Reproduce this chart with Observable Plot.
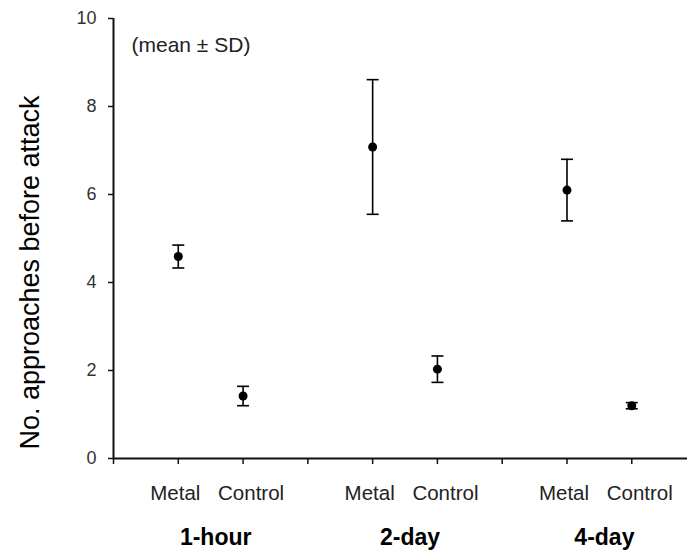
<!DOCTYPE html>
<html><head><meta charset="utf-8">
<script src="https://cdn.jsdelivr.net/npm/d3@7"></script>
<script src="https://cdn.jsdelivr.net/npm/@observablehq/plot@0.6"></script>
<style>body{margin:0;background:#fff;}</style>
</head><body><div id="chart"></div>
<script>
const groups = ["1-hour", "2-day", "4-day"];
const treatments = ["Metal", "Control"];
const means = [4.59, 1.42, 7.08, 2.03, 6.10, 1.20];
const sds = [0.26, 0.22, 1.53, 0.30, 0.70, 0.07];
const yTicks = [0, 2, 4, 6, 8, 10];
const yLabel = "No. approaches before attack";
const note = "(mean ± SD)";

const rows = means.map((m, i) => ({
  group: groups[Math.floor(i / 2)],
  treatment: treatments[i % 2],
  pos: Math.floor(i / 2) * 3 + (i % 2) + 1,
  mean: m, lo: m - sds[i], hi: m + sds[i]
}));
const slotTicks = d3.range(0, groups.length * 3);
const groupRows = groups.map((g, i) => ({group: g, pos: i * 3 + 1.5}));

const cap = {draw(ctx, size) { const w = 6; ctx.moveTo(-w, 0); ctx.lineTo(w, 0); }};
const font = "'Liberation Sans', Arial, sans-serif";

const plot = Plot.plot({
  width: 687, height: 552,
  marginLeft: 113, marginRight: 0, marginTop: 18, marginBottom: 94,
  style: {fontFamily: font, background: "#fff", color: "#111", overflow: "visible"},
  x: {domain: [0, 8.86], axis: null},
  y: {domain: [0, 10], axis: null},
  marks: [
    Plot.axisY({ticks: yTicks, tickSize: 5, tickPadding: 12, fontSize: 18, label: null, strokeWidth: 1.5, fill: "#333"}),
    Plot.axisX({ticks: slotTicks, tickSize: 6, tickFormat: () => "", label: null, strokeWidth: 1.5}),
    Plot.ruleX([0], {strokeWidth: 2}),
    Plot.ruleY([0], {strokeWidth: 2}),
    Plot.ruleX(rows, {x: "pos", y1: "lo", y2: "hi", strokeWidth: 1.6, stroke: "#000"}),
    Plot.dot(rows, {x: "pos", y: "hi", symbol: cap, stroke: "#000", fill: "none", strokeWidth: 1.6, r: 6}),
    Plot.dot(rows, {x: "pos", y: "lo", symbol: cap, stroke: "#000", fill: "none", strokeWidth: 1.6, r: 6}),
    Plot.dot(rows, {x: "pos", y: "mean", r: 4.5, fill: "#000", stroke: "none"}),
    Plot.text(rows.filter(d => d.treatment === "Metal"), {x: "pos", text: "treatment", frameAnchor: "bottom", lineAnchor: "middle", dy: 35, dx: -3, fontSize: 20.5, fill: "#222"}),
    Plot.text(rows.filter(d => d.treatment === "Control"), {x: "pos", text: "treatment", frameAnchor: "bottom", lineAnchor: "middle", dy: 35, dx: 8, fontSize: 20.5, fill: "#222"}),
    Plot.text(groupRows, {x: "pos", text: "group", frameAnchor: "bottom", lineAnchor: "middle", dy: 79, dx: 5, fontSize: 23, fontWeight: "bold", fill: "#000"}),
    Plot.text([yLabel], {text: d => d, frameAnchor: "left", textAnchor: "middle", lineAnchor: "middle", rotate: -90, dx: -83, dy: 34, fontSize: 27, fill: "#000"}),
    Plot.text([note], {text: d => d, frameAnchor: "top-left", textAnchor: "start", lineAnchor: "middle", dx: 18, dy: 27, fontSize: 21, fill: "#222"})
  ]
});
document.getElementById("chart").appendChild(plot);
</script>
</body></html>
